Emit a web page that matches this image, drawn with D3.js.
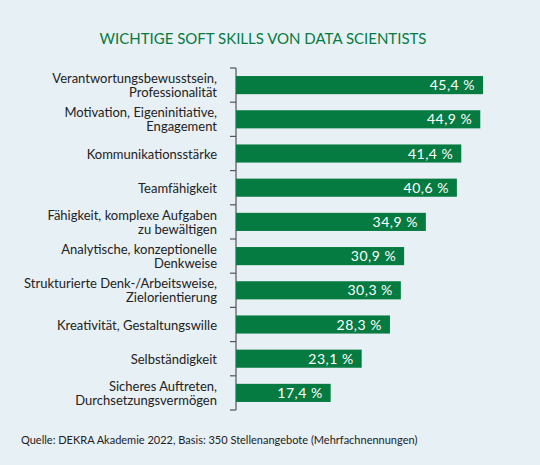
<!DOCTYPE html>
<html>
<head>
<meta charset="utf-8">
<script src="https://cdn.jsdelivr.net/npm/d3@7"></script>
<style>
  body { margin: 0; background: #e7f0f5; }
  svg { display: block; font-family: 'Lato', 'Noto Sans', sans-serif; }
</style>
</head>
<body>
<svg width="540" height="465"></svg>
<script>
  const skills = [
    'Verantwortungsbewusstsein,|Professionalität',
    'Motivation, Eigeninitiative,|Engagement',
    'Kommunikationsstärke',
    'Teamfähigkeit',
    'Fähigkeit, komplexe Aufgaben|zu bewältigen',
    'Analytische, konzeptionelle|Denkweise',
    'Strukturierte Denk-/Arbeitsweise,|Zielorientierung',
    'Kreativität, Gestaltungswille',
    'Selbständigkeit',
    'Sicheres Auftreten,|Durchsetzungsvermögen'
  ];
  const shares = [45.4, 44.9, 41.4, 40.6, 34.9, 30.9, 30.3, 28.3, 23.1, 17.4];

  const title = 'WICHTIGE SOFT SKILLS VON DATA SCIENTISTS';
  const source = 'Quelle: DEKRA Akademie 2022, Basis: 350 Stellenangebote (Mehrfachnennungen)';

  const svg = d3.select('svg');
  const width = +svg.attr('width');
  const height = +svg.attr('height');

  const green = '#067b41';
  const margin = { top: 68, left: 236 };
  const innerHeight = 342;

  svg.append('rect')
    .attr('width', width)
    .attr('height', height)
    .attr('fill', '#e7f0f5');

  const xScale = d3.scaleLinear()
    .domain([0, 45.4])
    .range([0, 247]);

  const yScale = d3.scaleBand()
    .domain(skills)
    .range([0, innerHeight])
    .paddingInner(0.47)
    .paddingOuter(0.235);

  const g = svg.append('g')
    .attr('transform', `translate(${margin.left},${margin.top})`);

  // axis with ticks between the bands
  const step = yScale.step();
  const tickPos = d3.range(skills.length + 1).map(i => i * step);
  g.append('line')
    .attr('x1', 0).attr('x2', 0)
    .attr('y1', 0).attr('y2', innerHeight)
    .attr('stroke', '#555')
    .attr('stroke-width', 1.2);
  g.selectAll('.tick')
    .data(tickPos)
    .join('line')
    .attr('class', 'tick')
    .attr('x1', -6).attr('x2', 0)
    .attr('y1', d => d).attr('y2', d => d)
    .attr('stroke', '#555')
    .attr('stroke-width', 1.2);

  const data = skills.map((s, i) => ({ skill: s, value: shares[i] }));

  g.selectAll('.bar')
    .data(data)
    .join('rect')
    .attr('class', 'bar')
    .attr('x', 0)
    .attr('y', d => yScale(d.skill))
    .attr('width', d => xScale(d.value))
    .attr('height', yScale.bandwidth())
    .attr('fill', green);

  g.selectAll('.value')
    .data(data)
    .join('text')
    .attr('class', 'value')
    .attr('x', d => xScale(d.value) - 8)
    .attr('y', d => yScale(d.skill) + yScale.bandwidth() / 2 + 5)
    .attr('text-anchor', 'end')
    .attr('fill', 'white')
    .style('font-size', '14px')
    .style('letter-spacing', '0.5px')
    .text(d => d3.format('.1f')(d.value).replace('.', ',') + ' %');

  const labels = g.selectAll('.label')
    .data(data)
    .join('text')
    .attr('class', 'label')
    .attr('text-anchor', 'end')
    .attr('fill', '#222')
    .style('font-size', '13px');

  labels.each(function (d) {
    const lines = d.skill.split('|');
    const mid = yScale(d.skill) + yScale.bandwidth() / 2;
    const first = lines.length === 1 ? mid + 5 : mid - 2;
    d3.select(this).selectAll('tspan')
      .data(lines)
      .join('tspan')
      .attr('x', -19)
      .attr('y', (l, i) => first + i * 14)
      .text(l => l);
  });

  svg.append('text')
    .attr('x', width / 2 - 7)
    .attr('y', 44)
    .attr('text-anchor', 'middle')
    .attr('fill', green)
    .style('font-size', '15px')
    .text(title);

  svg.append('text')
    .attr('x', 21)
    .attr('y', 444)
    .attr('fill', '#222')
    .style('font-size', '11px')
    .text(source);
</script>
</body>
</html>
